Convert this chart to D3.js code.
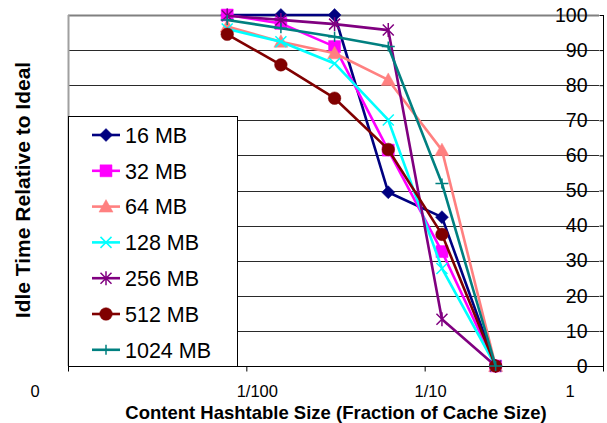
<!DOCTYPE html>
<html>
<head>
<meta charset="utf-8">
<script src="https://cdn.jsdelivr.net/npm/d3@7"></script>
<style>
  html, body { margin: 0; padding: 0; background: #fff; }
  svg { display: block; font-family: Arial, "Liberation Sans", sans-serif; }
</style>
</head>
<body>
<svg id="chart" width="607" height="423"></svg>
<script>
// Hashtable size as a fraction of the cache size (x positions of the points)
const fractions = [1/128, 1/64, 1/32, 1/16, 1/8, 1/4];

// Idle time relative to ideal, one array per cache size
const seriesNames = ["16 MB", "32 MB", "64 MB", "128 MB", "256 MB", "512 MB", "1024 MB"];
const idle16   = [100, 100, 100, 49.5, 42.4, 0];
const idle32   = [100, 97.6, 91, 61.5, 32.6, 0];
const idle64   = [96.7, 92.4, 89.1, 81.5, 61.5, 0];
const idle128  = [96, 92.4, 86.2, 70.1, 27.8, 0];
const idle256  = [99.8, 98.6, 97.4, 95.7, 13.3, 0];
const idle512  = [94.5, 85.8, 76.3, 61.7, 37.5, 0];
const idle1024 = [98.6, 96.2, 93.8, 91, 52, 0];
const seriesValues = [idle16, idle32, idle64, idle128, idle256, idle512, idle1024];

// Axis ticks
const xTickValues = [0.001, 0.01, 0.1, 1];
const xTickLabels = ["0", "1/100", "1/10", "1"];
const yTickValues = [0, 10, 20, 30, 40, 50, 60, 70, 80, 90, 100];

// Styling per series
const colors = ["#000080", "#ff00ff", "#ff8080", "#00ffff", "#800080", "#800000", "#008080"];
const shapes = ["diamond", "square", "triangle", "x", "star", "circle", "plus"];

const svg = d3.select("#chart");
const plotLeft = 68, plotRight = 603, plotTop = 15, plotBottom = 366;

const x = d3.scaleLog().domain([0.001, 1]).range([plotLeft, plotRight]);
const y = d3.scaleLinear().domain([0, 100]).range([plotBottom, plotTop]);

// Horizontal gridlines
svg.append("g")
  .selectAll("line")
  .data(yTickValues.filter(v => v > 0))
  .join("line")
  .attr("x1", plotLeft).attr("x2", plotRight - 4)
  .attr("y1", d => Math.round(y(d)) + 0.5).attr("y2", d => Math.round(y(d)) + 0.5)
  .attr("stroke", d => d === 100 ? "#808080" : "#2a2a2a")
  .attr("stroke-width", d => d === 100 ? 2 : 1);

// Left edge of the plot area
svg.append("line")
  .attr("x1", plotLeft + 0.5).attr("x2", plotLeft + 0.5)
  .attr("y1", plotTop).attr("y2", plotBottom)
  .attr("stroke", "#a0a0a0").attr("stroke-width", 2);

// Y axis on the right side, labels drawn inside the plot
const yAxis = d3.axisLeft(y).tickValues(yTickValues).tickSize(4).tickPadding(12)
  .tickFormat(d3.format("d"));
const gy = svg.append("g").attr("transform", `translate(${plotRight + 0.5},0)`).call(yAxis);
gy.select(".domain").attr("d", `M0,${plotTop}V${plotBottom + 5}`).attr("stroke", "#000");
gy.selectAll(".tick line").attr("stroke", "#000");
gy.selectAll(".tick text")
  .attr("font-size", "19.5px").attr("fill", "#000")
  .attr("font-family", "Arial, 'Liberation Sans', sans-serif");

// X axis (log scale) along the bottom
const xAxis = d3.axisBottom(x).tickValues(xTickValues).tickSize(5).tickFormat("");
const gx = svg.append("g").attr("transform", `translate(0,${Math.round(plotBottom) + 0.5})`).call(xAxis);
gx.select(".domain").attr("d", `M${plotLeft},0H${plotRight}`).attr("stroke", "#000");
gx.selectAll(".tick line").attr("stroke", "#000");

// Decade labels sit slightly off their ticks
const xLabelShift = [-33, 11, 6, -33];
svg.append("g")
  .selectAll("text")
  .data(xTickValues)
  .join("text")
  .attr("x", (d, i) => x(d) + xLabelShift[i])
  .attr("y", 397)
  .attr("text-anchor", "middle")
  .attr("font-size", "16.5px")
  .text((d, i) => xTickLabels[i]);

// Axis titles
svg.append("text")
  .attr("x", 336).attr("y", 419)
  .attr("text-anchor", "middle")
  .attr("font-weight", "bold").attr("font-size", "18.5px")
  .text("Content Hashtable Size (Fraction of Cache Size)");

svg.append("text")
  .attr("transform", "translate(30,190) rotate(-90)")
  .attr("text-anchor", "middle")
  .attr("font-weight", "bold").attr("font-size", "21px")
  .text("Idle Time Relative to Ideal");

// Marker path builder
function markerPath(shape) {
  const p = d3.path();
  switch (shape) {
    case "diamond":
      p.moveTo(0, -6.5); p.lineTo(6.5, 0); p.lineTo(0, 6.5); p.lineTo(-6.5, 0); p.closePath(); break;
    case "square":
      p.rect(-6, -6, 12, 12); break;
    case "triangle":
      p.moveTo(0, -7); p.lineTo(7, 5.5); p.lineTo(-7, 5.5); p.closePath(); break;
    case "circle":
      p.arc(0, 0, 6.3, 0, 2 * Math.PI); break;
    case "x":
      p.moveTo(-5.5, -5.5); p.lineTo(5.5, 5.5); p.moveTo(5.5, -5.5); p.lineTo(-5.5, 5.5); break;
    case "star":
      p.moveTo(-5.5, -5.5); p.lineTo(5.5, 5.5); p.moveTo(5.5, -5.5); p.lineTo(-5.5, 5.5);
      p.moveTo(0, -7); p.lineTo(0, 7); break;
    case "plus":
      p.moveTo(-6.5, 0); p.lineTo(6.5, 0); p.moveTo(0, -5); p.lineTo(0, 5); break;
  }
  return p.toString();
}
const filled = s => ["diamond", "square", "triangle", "circle"].includes(s);

function drawMarker(g, shape, color) {
  g.append("path")
    .attr("d", markerPath(shape))
    .attr("fill", filled(shape) ? color : "none")
    .attr("stroke", color)
    .attr("stroke-width", filled(shape) ? 0.5 : 1.5);
}

// Series lines and markers
const line = d3.line().x(d => x(d[0])).y(d => y(d[1]));
const plot = svg.append("g");
seriesValues.forEach((vals, i) => {
  const pts = fractions.map((f, j) => [f, vals[j]]);
  const g = plot.append("g");
  g.append("path")
    .attr("d", line(pts))
    .attr("fill", "none")
    .attr("stroke", colors[i])
    .attr("stroke-width", 2.6)
    .attr("stroke-linejoin", "round");
  pts.forEach(p => {
    const m = g.append("g").attr("transform", `translate(${x(p[0])},${y(p[1])})`);
    drawMarker(m, shapes[i], colors[i]);
  });
});

// Legend
const legend = svg.append("g");
legend.append("rect")
  .attr("x", plotLeft + 0.5).attr("y", 116.5)
  .attr("width", 169).attr("height", plotBottom - 116)
  .attr("fill", "#fff").attr("stroke", "#000").attr("stroke-width", 1);
seriesNames.forEach((name, i) => {
  const cy = 135 + i * 35.8;
  const g = legend.append("g").attr("transform", `translate(0,${cy})`);
  g.append("line")
    .attr("x1", 92).attr("x2", 120).attr("y1", 0).attr("y2", 0)
    .attr("stroke", colors[i]).attr("stroke-width", 2.6);
  drawMarker(g.append("g").attr("transform", "translate(106,0)"), shapes[i], colors[i]);
  g.append("text")
    .attr("x", 125).attr("y", 0).attr("dy", "0.36em")
    .attr("font-size", "21.5px")
    .text(name);
});
</script>
</body>
</html>
